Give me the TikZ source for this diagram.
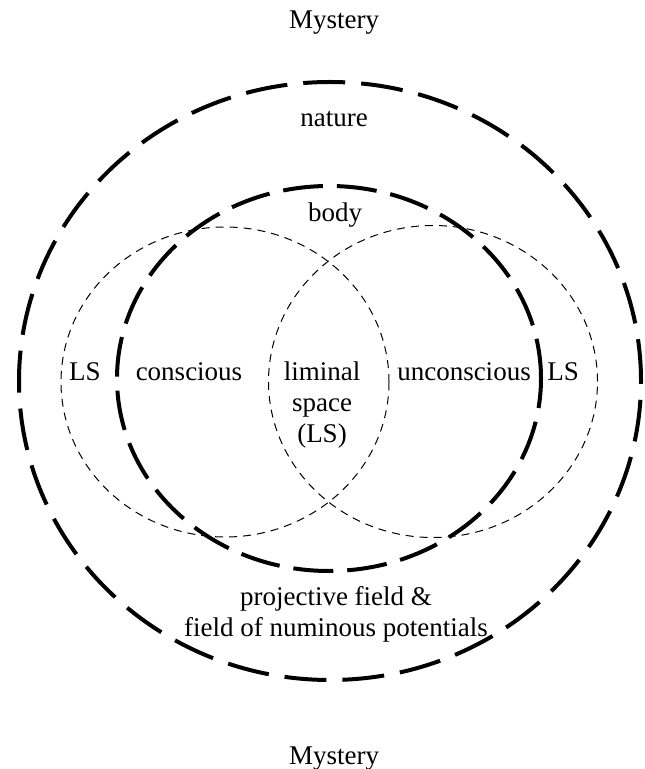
\documentclass[tikz,border=0pt]{standalone}
\usepackage{fontspec}
\setmainfont{Liberation Serif}
\usetikzlibrary{positioning}
\definecolor{ink}{HTML}{000000}
\tikzset{
  font=\fontsize{13.5}{15.5}\selectfont,
  realm/.style={draw=ink, line width=2pt, dash pattern=on 21pt off 8pt},
  self/.style={draw=ink, line width=2pt, dash pattern=on 20pt off 7pt},
  psyche/.style={draw=ink, line width=0.5pt, dash pattern=on 4pt off 3pt},
  lbl/.style={text=ink, anchor=base, inner sep=0pt, align=center},
}

\begin{document}
\begin{tikzpicture}[x=0.5pt, y=-0.5pt]
\useasboundingbox (0,0) rectangle (644,769);

% --- nested fields ---------------------------------------------------------------------
\draw[realm] (330,381) ellipse [x radius=155.5pt, y radius=149.5pt];
\draw[self] (329,378.5) ellipse [x radius=106pt, y radius=96.25pt];
\draw[psyche] (225,382) ellipse [x radius=82pt, y radius=77.5pt];
\draw[psyche] (433,381.5) ellipse [x radius=82.25pt, y radius=78pt];

% --- labels (multi-line ones sit on their last baseline) -------------------------------
\node[lbl] (mysttop) at (334,29) {Mystery};
\node[lbl] (nature) at (334,127) {nature};
\node[lbl] (body) at (335,222) {body};
\node[lbl] (lsleft) at (85,380) {LS};
\node[lbl] (conscious) at (189,380) {conscious};
\node[lbl] (liminal) at (322,442) {liminal\\space\\(LS)};
\node[lbl] (unconscious) at (464,380) {unconscious};
\node[lbl] (lsright) at (563,380) {LS};
\node[lbl] (field) at (336,636) {projective field \&\\field of numinous potentials};
\node[lbl] (mystbot) at (334,764) {Mystery};

\end{tikzpicture}
\end{document}
